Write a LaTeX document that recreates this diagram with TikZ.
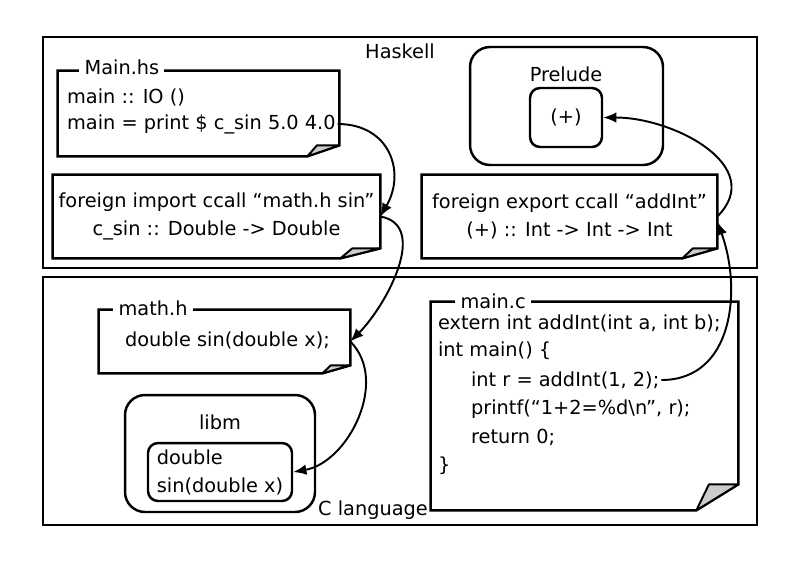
\documentclass[tikz,border=0pt]{standalone}
\usepackage{fontspec}
\setmainfont{DejaVu Sans}
\usetikzlibrary{positioning,arrows.meta,calc}

\newcommand{\codefont}{\fontsize{11}{16}\selectfont}

% Blatt mit Eselsohr um einen Knoten: Name, Breite und Hoehe des Knicks (px)
\newcommand{\docpaper}[3]{%
  \draw[docline] (#1.north west) -- (#1.north east) -- ($(#1.south east)+(0,-#3)$)
    -- ($(#1.south east)+(-#2,0)$) -- (#1.south west) -- cycle;
  \filldraw[docfold] ($(#1.south east)+(0,-#3)$) -- ($(#1.south east)+(-#2,0)$)
    -- ($(#1.south east)+(-0.7*#2,-#3)$) -- cycle;
}

\tikzset{
  areaframe/.style={draw, line width=1.6pt, inner sep=0pt},
  docbox/.style={inner sep=0pt},
  docline/.style={line width=1.4pt, line join=miter},
  docfold/.style={fill=black!20, line width=1.1pt, line join=round},
  rbox/.style={draw, line width=1.4pt, inner sep=0pt},
  doctitle/.style={anchor=base west, fill=white, inner xsep=3pt, inner ysep=1pt},
  codeline/.style={anchor=west, inner sep=1pt},
  ffilink/.style={line width=1.1pt, -{Latex[length=7.5pt,width=6pt]}},
}

\begin{document}
\begin{tikzpicture}[x=0.02cm, y=-0.02cm, font=\codefont]
  \useasboundingbox (0,0) rectangle (800,566);

  % Bereiche
  \node[areaframe, minimum width=14.28cm, minimum height=4.62cm] (haskell) at (400,152.5) {};
  \node[areaframe, minimum width=14.28cm, minimum height=4.96cm] (clang) at (400,401) {};
  \node (hslabel) at (400,51) {Haskell};

  % Haskell-Seite
  \node[docbox, minimum width=5.62cm, minimum height=1.70cm] (hsmain) at (198.5,113.5) {};
  \docpaper{hsmain}{32}{11}
  \node[doctitle] (hstitle) at (79,74) {Main.hs};
  \node[codeline] (hstype) at (65,97) {main :: IO ()};
  \node[codeline] (hsprint) at (65,124) {main = print \$ c\_sin 5.0 4.0};

  \node[docbox, align=center, minimum width=6.54cm, minimum height=1.66cm] (ffimport) at (216.5,216.5)
    {foreign import ccall “math.h sin”\\c\_sin :: Double -> Double};
  \docpaper{ffimport}{40}{10}

  \node[rbox, rounded corners=0.4cm, minimum width=3.86cm, minimum height=2.36cm] (prelude) at (566.5,106) {};
  \node (preludelabel) at (566,74) {Prelude};
  \node[rbox, rounded corners=0.2cm, minimum width=1.44cm, minimum height=1.18cm] (plus) at (566,117.5) {(+)};

  \node[docbox, align=center, minimum width=5.9cm, minimum height=1.66cm] (ffexport) at (569.5,216.5)
    {foreign export ccall “addInt”\\(+) :: Int -> Int -> Int};
  \docpaper{ffexport}{35}{10}

  % C-Seite
  \node[docbox, minimum width=5.02cm, minimum height=1.26cm] (mathh) at (224.5,341.5) {};
  \docpaper{mathh}{28}{8}
  \node[doctitle] (mathhtitle) at (113,315) {math.h};
  \node[codeline] (sindecl) at (123,340) {double sin(double x);};

  \node[rbox, rounded corners=0.4cm, minimum width=3.8cm, minimum height=2.34cm] (libm) at (220,453.5) {};
  \node (libmlabel) at (220,422) {libm};
  \node[rbox, rounded corners=0.2cm, align=left, minimum width=2.88cm, minimum height=1.16cm] (sinfn) at (220,472)
    {double\\sin(double x)};

  \node[docbox, minimum width=6.14cm, minimum height=4.16cm] (mainc) at (584.5,406) {};
  \docpaper{mainc}{42}{26}
  \node[doctitle] (maintitle) at (455,308) {main.c};
  \node[codeline] (cextern) at (436,323) {extern int addInt(int a, int b);};
  \node[codeline] (cmain) at (436,351) {int main() \{};
  \node[codeline] (addcall) at (469,380) {int r = addInt(1, 2);};
  \node[codeline] (cprintf) at (469,409) {printf(“1+2=\%d\textbackslash n”, r);};
  \node[codeline] (creturn) at (469,437) {return 0;};
  \node[codeline] (cclose) at (436,466) {\}};
  \node[inner sep=1pt] (clabel) at (373,510) {C language};

  % Aufrufe
  \draw[ffilink] (hsprint.east) to[out=0, in=60, looseness=1.3] (ffimport.east);
  \draw[ffilink] (ffimport.east) to[out=-10, in=45] (mathh.east);
  \draw[ffilink] (mathh.east) to[out=-45, in=10] (sinfn.east);
  \draw[ffilink] (addcall.east) to[out=0, in=-70, looseness=1.1] (ffexport.-2);
  \draw[ffilink] (ffexport.east) to[out=45, in=0, looseness=1.2] (plus.east);
\end{tikzpicture}
\end{document}
